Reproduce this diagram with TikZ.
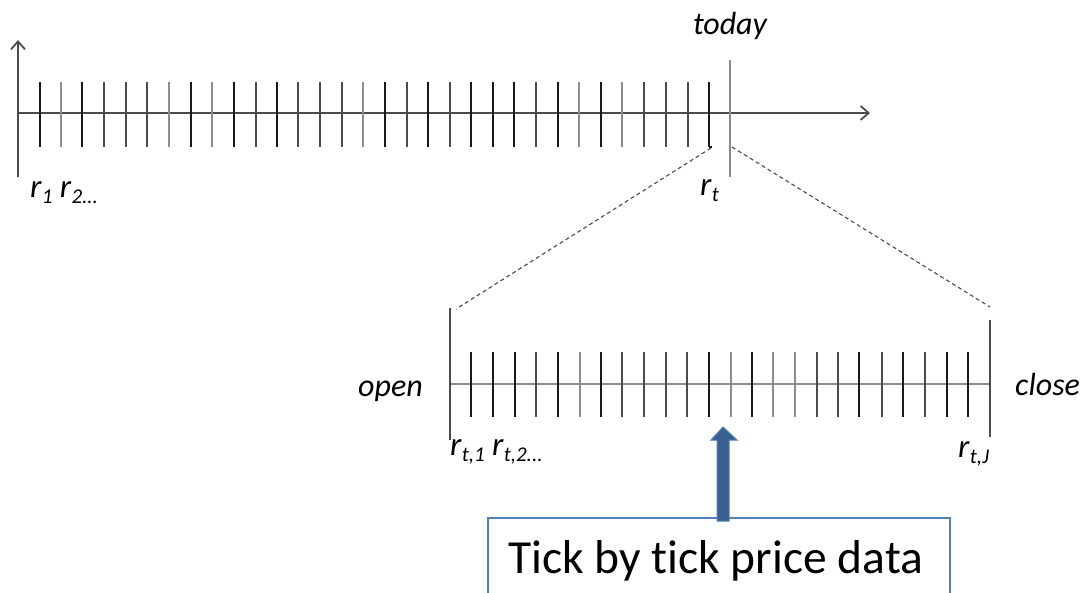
\documentclass[tikz,border=0pt]{standalone}
\usepackage{fontspec}
\setmainfont{Carlito}[Ligatures=NoCommon]
\usetikzlibrary{arrows.meta}
\definecolor{axisgray}{RGB}{75,75,75}
\definecolor{tickdark}{RGB}{25,25,25}
\definecolor{tickmed}{RGB}{75,75,75}
\definecolor{ticklight}{RGB}{140,140,140}
\definecolor{boxblue}{RGB}{79,129,189}
\definecolor{arrowblue}{RGB}{58,95,145}
\newcommand\rlab[1]{\textit{r}\raisebox{-6pt}{\fontsize{21}{22}\selectfont\textit{#1}}}
\begin{document}
\begin{tikzpicture}[x=1pt,y=-1pt,
  axisline/.style={draw=axisgray,line width=1.8pt},
  tickd/.style={draw=tickdark,line width=2.3pt},
  tickm/.style={draw=tickmed,line width=2pt},
  tickl/.style={draw=ticklight,line width=1.8pt},
  zoomline/.style={draw=axisgray,line width=1.1pt,dash pattern=on 4pt off 3pt},
  lab/.style={inner sep=0pt,font=\fontsize{32}{38}\selectfont\itshape},
  rl/.style={inner sep=0pt,font=\fontsize{33}{38}\selectfont},
  big/.style={inner sep=0pt,font=\fontsize{47.5}{54}\selectfont}]
\useasboundingbox (0,0) rectangle (1081,592);
% top axis
\coordinate (yaxb) at (18,177);
\coordinate (yaxt) at (18,40);
\coordinate (xaxl) at (18,113);
\coordinate (xaxr) at (870,113);
\draw[axisline,-{Straight Barb[length=8pt,width=14pt]}] (yaxb) -- (yaxt);
\draw[axisline,-{Straight Barb[length=8pt,width=14pt]}] (xaxl) -- (xaxr);
\foreach \x/\c in {40/d,61/l,82/d,104/m,126/m,147/m,169/l,191/d,212/l,234/d,256/m,277/d,298/m,320/m,342/m,363/l,385/d,407/m,428/d,450/m,471/d,493/d,514/d,536/m,558/d,579/l,601/d,622/l,644/m,666/m,688/m,709/d}
  \draw[tick\c] (\x,82) -- (\x,147);
\draw[tickd] (709,147) -- (712,147);
% today line
\coordinate (todayt) at (730,60);
\coordinate (todayb) at (730,177);
\draw[draw=ticklight,line width=1.8pt] (todayt) -- (todayb);
\node[lab,anchor=base] (today) at (730,34) {today};
\node[rl,anchor=base west] (r1) at (30,197) {\rlab{1} \rlab{2...}};
\node[rl,anchor=base west] (rt) at (700,195) {\rlab{t}};
% bottom axis
\coordinate (bl) at (450,384);
\coordinate (br) at (990,384);
\coordinate (blt) at (450,308);
\coordinate (blb) at (450,440);
\coordinate (brt) at (990,320);
\coordinate (brb) at (990,437);
\draw[draw=ticklight,line width=1.8pt] (bl) -- (br);
\draw[draw=tickmed,line width=1.5pt] (blt) -- (blb);
\draw[draw=tickmed,line width=1.3pt] (brt) -- (brb);
\foreach \x/\c in {471/d,493/d,515/d,536/m,558/d,580/l,601/d,622/m,644/m,666/m,687/m,709/d,731/l,752/d,773/l,795/l,817/m,838/m,859/d,882/m,903/d,925/m,947/d,968/d}
  \draw[tick\c] (\x,352) -- (\x,417);
% zoom dashed lines
\coordinate (zl1) at (711,148);
\coordinate (zl2) at (456,309);
\coordinate (zr1) at (732,147);
\coordinate (zr2) at (990,307);
\draw[zoomline] (zl1) -- (zl2);
\draw[zoomline] (zr1) -- (zr2);
\node[lab,anchor=base east] (open) at (423,396) {open};
\node[lab,anchor=base west] (close) at (1015,395) {close};
\node[rl,anchor=base west] (rt1) at (450,455) {\rlab{t,1} \rlab{t,2...}};
\node[rl,anchor=base west] (rtJ) at (958,457) {\rlab{t,J}};
% box and arrow
\draw[boxblue,line width=1.5pt] (488,600) |- (950,518) -- (950,600);
\node[big,anchor=base west] (tick) at (508,573) {Tick by tick price data};
\fill[arrowblue,draw=boxblue,line width=1pt] (717,521) -- (717,440) -- (711,440) -- (723,427) -- (737,440) -- (729,440) -- (729,521) -- cycle;
\end{tikzpicture}
\end{document}
